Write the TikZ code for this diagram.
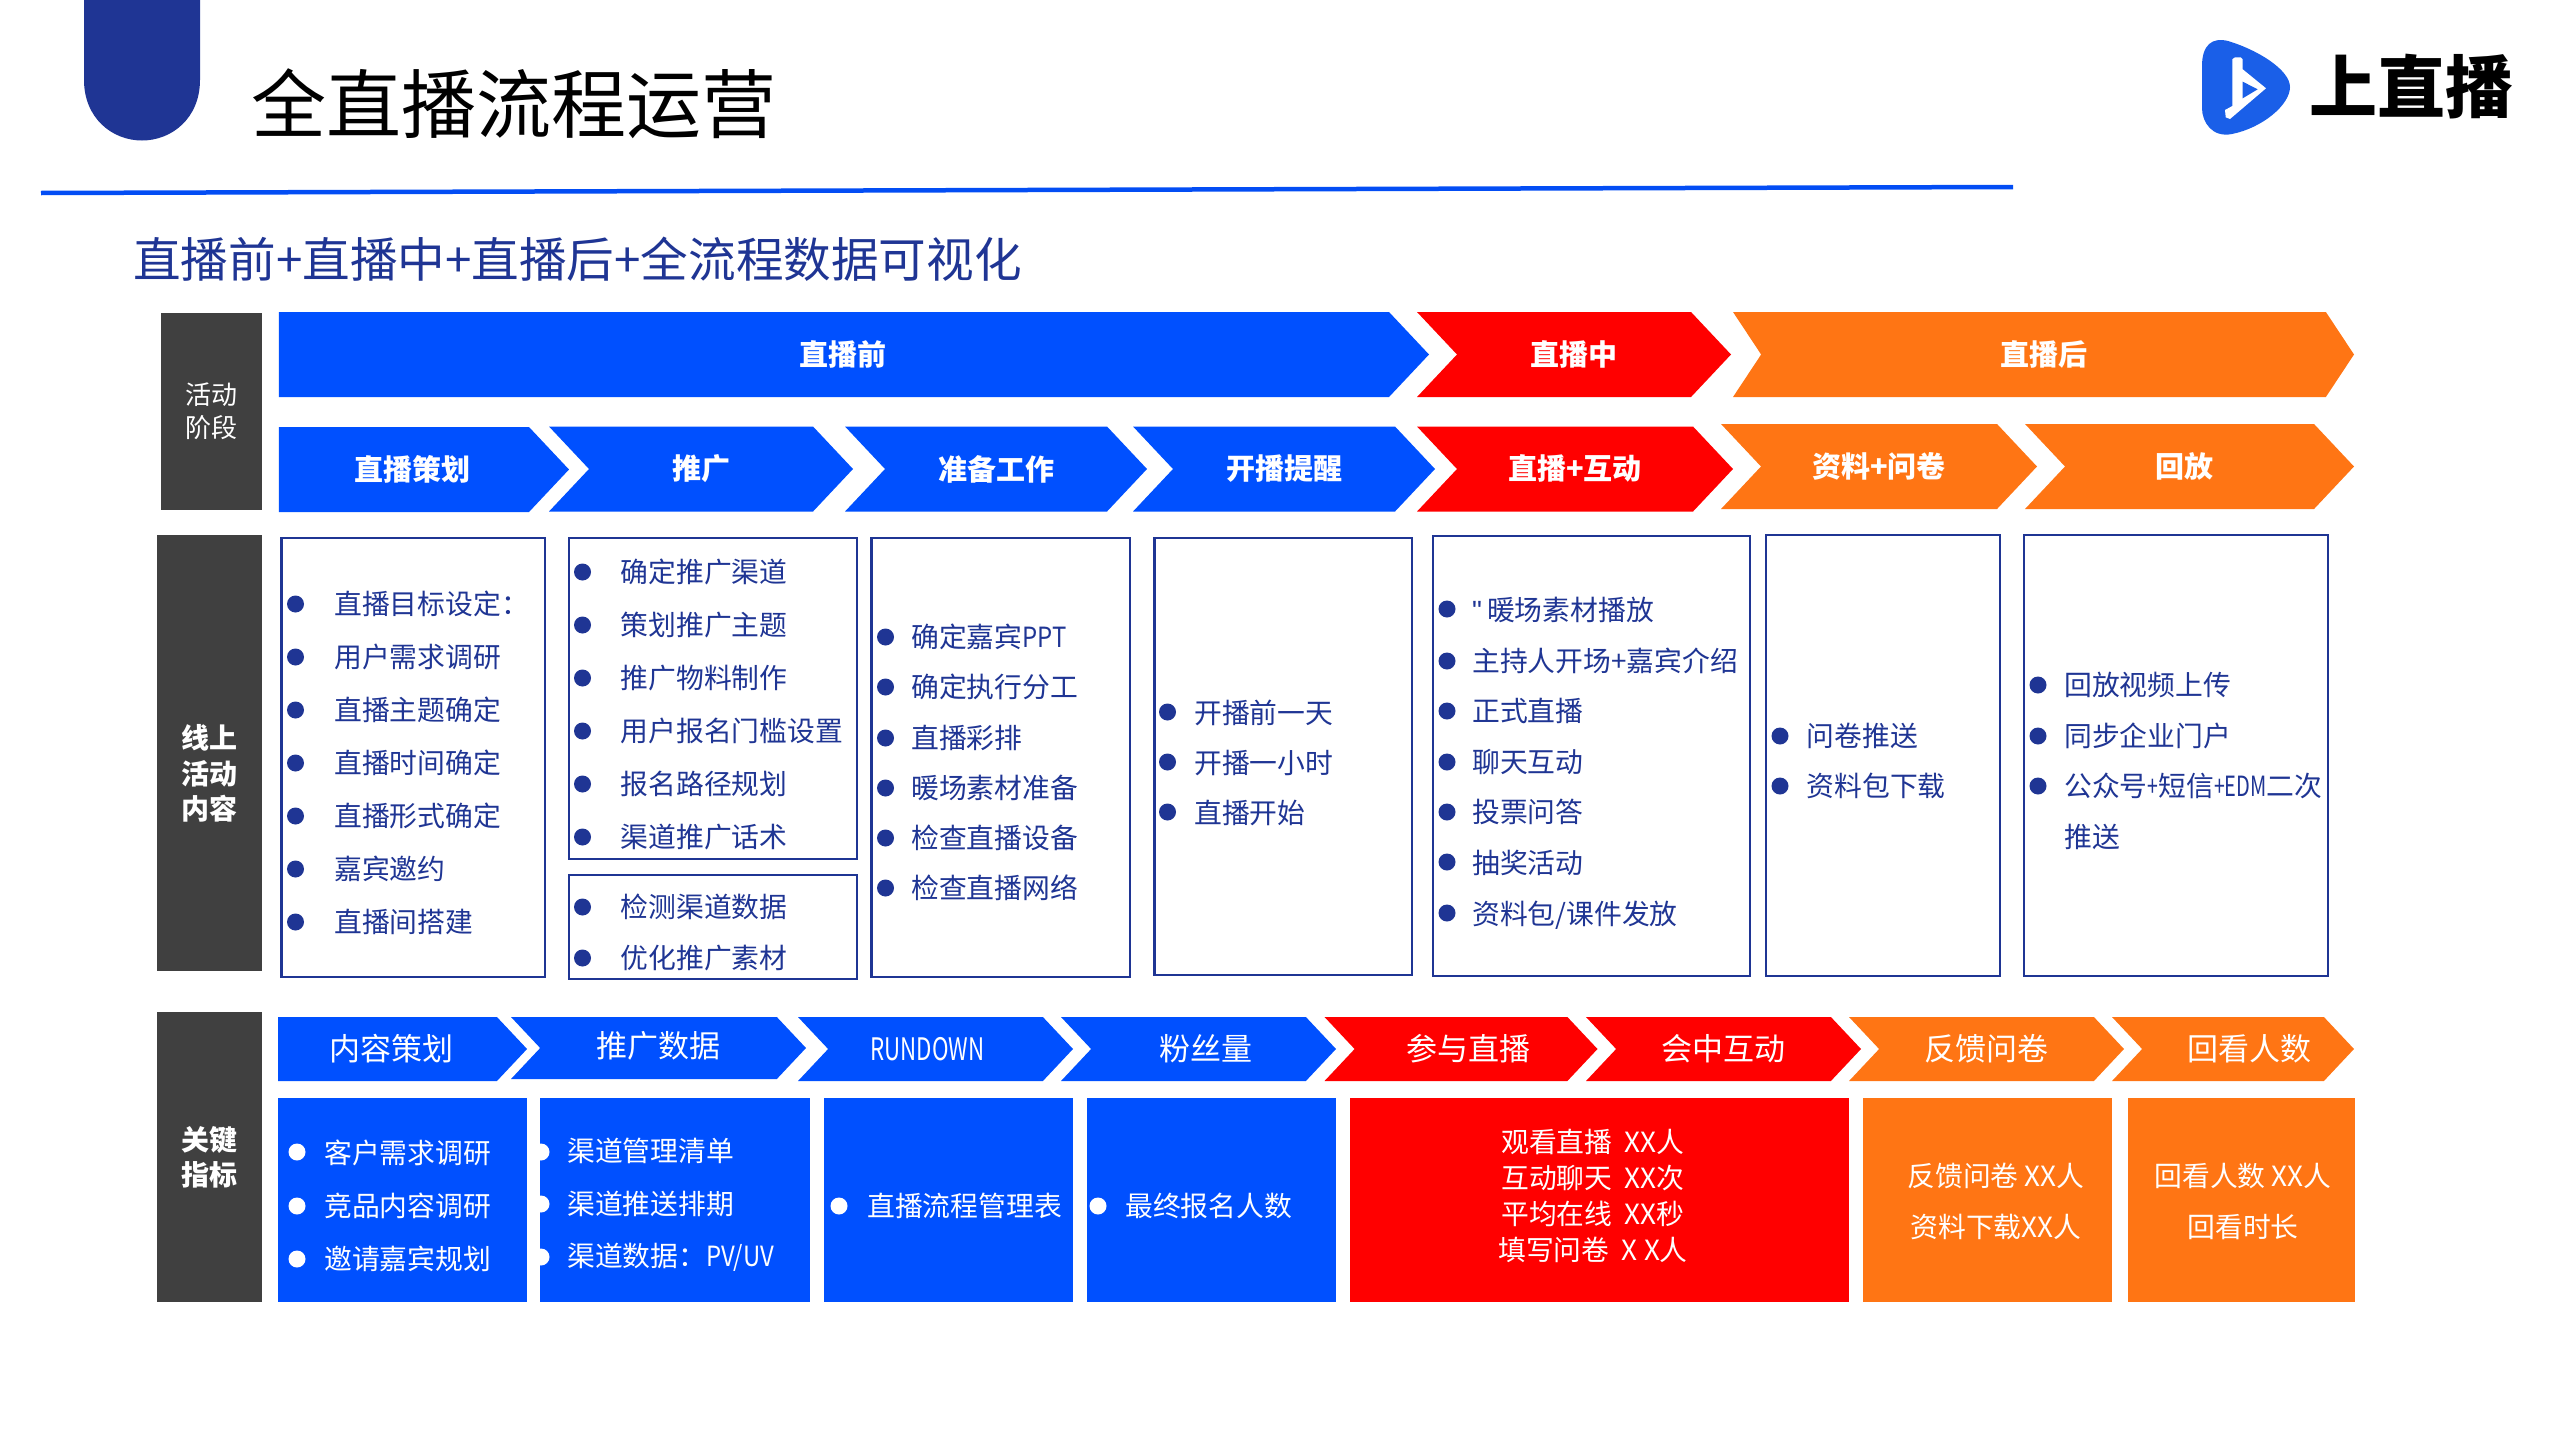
\documentclass[tikz,border=0pt]{standalone}
\usepackage{xcolor}
\usepackage{fontspec}
\setmainfont{Noto Sans CJK SC}
\newfontfamily\latinfont{Liberation Sans}
\usepackage{tikz}
\usetikzlibrary{shapes.symbols,positioning}

\definecolor{liveblue}{HTML}{0050FF}
\definecolor{livered}{HTML}{FF0000}
\definecolor{liveorange}{HTML}{FF7514}
\definecolor{navy}{HTML}{1F3594}
\definecolor{darkside}{HTML}{404040}
\definecolor{logoblue}{HTML}{1A5FE8}
\newcommand{\narrowlatin}[2][0.86]{\scalebox{#1}[1]{#2}}

\begin{document}
\begin{tikzpicture}
    [
    x=1pt, y=-1pt,
    sidebox/.style = {fill=darkside, text=white, inner sep=0pt, align=center, font=\fontsize{26}{33}\selectfont},
    sidetext/.style = {text=white, inner sep=0pt, align=center, font=\bfseries\fontsize{28}{35.5}\selectfont},
    chevron/.style = {signal, signal to=east, signal from=west, signal pointer angle=93.5, inner sep=0pt, outer sep=0pt, minimum height=85, text=white, font=\bfseries\fontsize{29}{29}\selectfont},
    firstchevron/.style = {chevron, signal from=nowhere},
    keychevron/.style = {chevron, minimum height=64, font=\fontsize{31}{31}\selectfont},
    listbox/.style = {draw=navy, line width=2.5pt, fill=white, inner sep=0pt},
    itemlist/.style = {anchor=west, align=left, inner sep=0pt, text=navy, font=\fontsize{27.8}{53}\selectfont},
    dataitem/.style = {itemlist, text=white},
    datablock/.style = {inner sep=0pt, minimum height=204},
    datatext/.style = {align=center, inner sep=0pt, text=white, font=\fontsize{27.8}{36}\selectfont},
    ]
    \useasboundingbox (0,0) rectangle (2560,1440);

% Header
    \fill[navy] (84,0) -- (84,80) .. controls (84,118) and (112,140.5) .. (142,140.5) .. controls (172,140.5) and (200,118) .. (200,80) -- (200,0) -- cycle;
    \node[anchor=west, inner sep=0pt, font=\fontsize{75}{75}\selectfont] (title) at (251,104) {全直播流程运营};
    \coordinate (ruleleft) at (41,193);
    \coordinate (ruleright) at (2013,187);
    \draw[line width=4.5pt, liveblue!90!navy] (ruleleft) -- (ruleright);
    \node[anchor=west, inner sep=0pt, text=navy, font=\fontsize{47.6}{48}\selectfont] (subtitle) at (133,259) {直播前+直播中+直播后+全流程数据可视化};

% Logo
    \fill[logoblue] (2202,66) .. controls (2202,45) and (2212,37) .. (2228,41) .. controls (2258,50) and (2290,70) .. (2290,87) .. controls (2290,105) and (2262,128) .. (2232,134) .. controls (2212,138) and (2202,122) .. (2202,108) -- cycle;
    \fill[white] (2232.3,59.3) -- (2235,57.3) -- (2240.7,57.3) -- (2242.7,59.3) -- (2242.7,69.3) -- (2266,88.3) -- (2230,119) -- (2225.7,117.3) -- (2225,110) -- (2232.3,106) -- cycle;
    \fill[logoblue] (2242.7,81.7) -- (2257.7,89.3) -- (2242.7,98.3) -- cycle;
    \node[anchor=west, inner sep=0pt, font=\bfseries\fontsize{68}{68}\selectfont] (logotext) at (2309,87) {上直播};

% Side labels
    \node[sidebox, minimum width=101, minimum height=197] (stagelabel) at (211.5,411.5) {活动\\阶段};
    \node[sidebox, minimum width=105, minimum height=436] (contentlabel) at (209.5,753) {};
    \node[sidetext] (contenttext) at (209,773.5) {线上\\活动\\内容};
    \node[sidebox, minimum width=105, minimum height=290, font=\bfseries\fontsize{28}{35}\selectfont] (keylabel) at (209.5,1157) {关键\\指标};

% Stage row
    \node[firstchevron, fill=liveblue, minimum width=1150] (before) at (834,354.5) {\hspace*{18pt}直播前};
    \node[chevron, fill=livered, minimum width=314] (during) at (1574,354.5) {直播中};
    \node[chevron, fill=liveorange, signal pointer angle=113, minimum width=621] (after) at (2043.5,354.5) {直播后};

% Step row
    \node[firstchevron, fill=liveblue, minimum width=290] (planning) at (404,469.5) {\hspace*{16pt}直播策划};
    \node[chevron, fill=liveblue, minimum width=304] (promotion) at (701,469) {推广};
    \node[chevron, fill=liveblue, minimum width=302] (prepare) at (996,469) {准备工作};
    \node[chevron, fill=liveblue, minimum width=302] (reminder) at (1284,469) {开播提醒};
    \node[chevron, fill=livered, minimum width=316] (interact) at (1575,469) {\raisebox{3pt}{直播+互动}};
    \node[chevron, fill=liveorange, minimum width=316] (survey) at (1879,466.5) {资料+问卷};
    \node[chevron, fill=liveorange, minimum width=329] (replay) at (2189.5,466.5) {回放\hspace*{10pt}};

% Content boxes
    \node[listbox, minimum width=263.5, minimum height=439] (boxplan) at (413.25,757.5) {};
    \node[listbox, minimum width=288, minimum height=321] (boxpromo) at (713,698.5) {};
    \node[listbox, minimum width=288, minimum height=104] (boxcheck) at (713,927) {};
    \node[listbox, minimum width=258.5, minimum height=439] (boxprep) at (1000.75,757.5) {};
    \node[listbox, minimum width=257.5, minimum height=437] (boxremind) at (1283.25,756.5) {};
    \node[listbox, minimum width=317, minimum height=440] (boxlive) at (1591.5,756) {};
    \node[listbox, minimum width=234, minimum height=441] (boxsurvey) at (1883,755.5) {};
    \node[listbox, minimum width=304, minimum height=441] (boxreplay) at (2176,755.5) {};

% Content lists
    \node[itemlist] (planlist) at (334,763) {直播目标设定：\\用户需求调研\\直播主题确定\\直播时间确定\\直播形式确定\\嘉宾邀约\\直播间搭建};
    \node[itemlist] (promolist) at (620.5,704.5) {确定推广渠道\\策划推广主题\\推广物料制作\\用户报名门槛设置\\报名路径规划\\渠道推广话术};
    \node[itemlist, font=\fontsize{27.8}{51}\selectfont] (checklist) at (620.5,932.5) {检测渠道数据\\优化推广素材};
    \node[itemlist, font=\fontsize{27.8}{50.2}\selectfont] (preplist) at (911,762.5) {确定嘉宾\narrowlatin{PPT}\\确定执行分工\\直播彩排\\暖场素材准备\\检查直播设备\\检查直播网络};
    \node[itemlist, font=\fontsize{27.8}{50.2}\selectfont] (remindlist) at (1194,763) {开播前一天\\开播一小时\\直播开始};
    \node[itemlist, font=\fontsize{27.8}{50.6}\selectfont] (livelist) at (1472,763) {{\latinfont\symbol{34}}\hspace{5pt}暖场素材播放\\主持人开场+嘉宾介绍\\正式直播\\聊天互动\\投票问答\\抽奖活动\\资料包/课件发放};
    \node[itemlist, font=\fontsize{27.8}{50}\selectfont] (surveylist) at (1806.5,761) {问卷推送\\资料包下载};
    \node[itemlist, font=\fontsize{27.8}{50.7}\selectfont] (replaylist) at (2064,761) {回放视频上传\\同步企业门户\\公众号\narrowlatin[0.7]{+}短信\narrowlatin[0.7]{+}\narrowlatin[0.72]{EDM}二次\\推送};

% Content bullets
    \foreach \y in {604,657,710,763,816,869,922} \fill[navy] (295.5,\y) circle (8.5);
    \foreach \y in {572,625,678,731,784,837,907,958} \fill[navy] (582.5,\y) circle (8.5);
    \foreach \y in {637,687,738,788,838,888} \fill[navy] (885.5,\y) circle (8.5);
    \foreach \y in {712,762,812} \fill[navy] (1167.5,\y) circle (8.5);
    \foreach \y in {609,661,711,762,812,862,913} \fill[navy] (1447,\y) circle (8.5);
    \foreach \y in {736,786} \fill[navy] (1780,\y) circle (8.5);
    \foreach \y in {685,736,786} \fill[navy] (2038,\y) circle (8.5);

% Key chevrons
    \node[firstchevron, keychevron, signal from=nowhere, fill=liveblue, minimum width=249] (keyplan) at (387.5,1049) {\hspace*{7pt}内容策划};
    \node[keychevron, fill=liveblue, minimum width=295, minimum height=62] (keypromo) at (658.5,1048) {\raisebox{7pt}{推广数据}};
    \node[keychevron, fill=liveblue, minimum width=275] (keyrun) at (935.5,1049) {\narrowlatin[0.72]{RUNDOWN}\hspace*{16pt}};
    \node[keychevron, fill=liveblue, minimum width=275] (keyfans) at (1198.5,1049) {\hspace*{14pt}粉丝量};
    \node[keychevron, fill=livered, minimum width=273] (keyjoin) at (1461,1049) {\hspace*{14pt}参与直播};
    \node[keychevron, fill=livered, minimum width=275] (keychat) at (1723.5,1049) {会中互动};
    \node[keychevron, fill=liveorange, minimum width=275] (keyform) at (1986.5,1049) {反馈问卷};
    \node[keychevron, fill=liveorange, minimum width=242] (keyback) at (2233,1049) {\hspace*{32pt}回看人数};

% Key blocks
    \node[datablock, fill=liveblue, minimum width=249] (blockplan) at (402.5,1200) {};
    \node[datablock, fill=liveblue, minimum width=270] (blockpromo) at (675,1200) {};
    \node[datablock, fill=liveblue, minimum width=249] (blockrun) at (948.5,1200) {};
    \node[datablock, fill=liveblue, minimum width=249] (blockfans) at (1211.5,1200) {};
    \node[datablock, fill=livered, minimum width=499] (blockjoin) at (1599.5,1200) {};
    \node[datablock, fill=liveorange, minimum width=249] (blockform) at (1987.5,1200) {};
    \node[datablock, fill=liveorange, minimum width=227] (blockback) at (2241.5,1200) {};

% Key block texts
    \node[dataitem] (plantext) at (324,1205.5) {客户需求调研\\竞品内容调研\\邀请嘉宾规划};
    \node[dataitem, font=\fontsize{27.8}{52.5}\selectfont] (promotext) at (567,1205) {渠道管理清单\\渠道推送排期\\渠道数据：\narrowlatin{PV/UV}};
    \node[dataitem] (runtext) at (867,1206) {直播流程管理表};
    \node[dataitem] (fanstext) at (1125,1206) {最终报名人数};
    \node[datatext] (jointext) at (1593,1196) {观看直播\ \ XX人\\互动聊天\ \ XX次\\平均在线\ \ XX秒\\填写问卷\ \ X X人};
    \node[datatext, font=\fontsize{27.8}{51}\selectfont] (formtext) at (1996,1201.5) {反馈问卷 XX人\\资料下载XX人};
    \node[datatext, font=\fontsize{27.8}{51}\selectfont] (backtext) at (2243,1201.5) {回看人数 XX人\\回看时长};

% Key block bullets
    \foreach \y in {1152,1206,1259} \fill[white] (297,\y) circle (8.5);
    \foreach \y in {1152,1204,1257} \fill[white] (541,\y) circle (8.5);
    \fill[white] (839,1206) circle (8.5);
    \fill[white] (1098,1206) circle (8.5);

\end{tikzpicture}
\end{document}
